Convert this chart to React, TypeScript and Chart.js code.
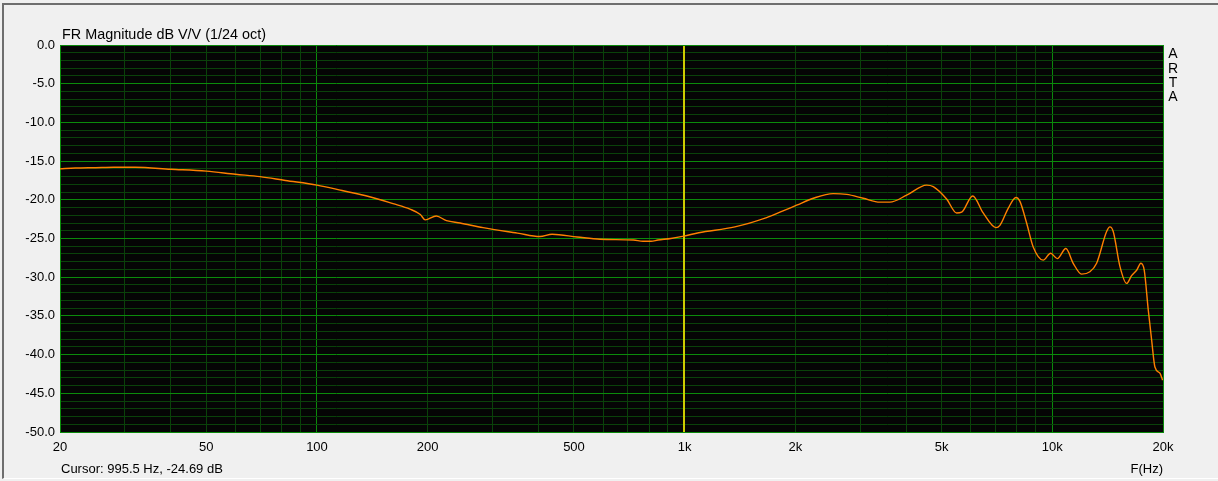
import { useEffect, useRef } from 'react';
import { Chart, registerables } from 'chart.js';

Chart.register(...registerables);

// ---- data ----
const freqHz = [
  20, 22, 25, 28, 32, 40, 50, 60, 70, 82, 100, 117, 139, 161, 179, 191, 197, 211, 225, 245,
  283, 351, 404, 436, 510, 589, 726, 770, 810, 846, 917, 995.5, 1092, 1370, 1671, 1816,
  2016, 2238, 2536, 2758, 3059, 3398, 3617, 4016, 4552, 4744, 5158, 5492, 5667, 6072, 6486,
  7026, 7202, 7586, 7962, 8164, 8513, 8872, 9446, 9894, 10313, 10888, 11398, 12012, 12654,
  13197, 14050, 14343, 14644, 15270, 15924, 16430, 16954, 17417, 17782, 18234, 18624, 19013,
  19618, 19950,
];
const magnitudeDb = [
  -16.0, -15.9, -15.85, -15.8, -15.8, -16.05, -16.3, -16.7, -17.0, -17.5, -18.1, -18.8, -19.6,
  -20.5, -21.2, -21.9, -22.6, -22.1, -22.7, -23.0, -23.6, -24.3, -24.75, -24.45, -24.8, -25.1,
  -25.2, -25.35, -25.35, -25.2, -25.0, -24.69, -24.25, -23.5, -22.3, -21.6, -20.7, -19.8,
  -19.2, -19.3, -19.8, -20.3, -20.3, -19.4, -18.1, -18.3, -19.9, -21.7, -21.6, -19.5, -21.7,
  -23.6, -23.3, -21.1, -19.7, -20.2, -23.0, -26.1, -27.8, -26.9, -27.6, -26.3, -28.2, -29.6,
  -29.3, -28.2, -24.1, -23.5, -24.1, -28.6, -30.8, -29.8, -29.1, -28.2, -29.1, -34.2, -38.1,
  -41.6, -42.4, -43.3,
];

const xGridFreqs = [
  20, 30, 40, 50, 60, 70, 80, 90, 100, 200, 300, 400, 500, 600, 700, 800, 900, 1000, 2000,
  3000, 4000, 5000, 6000, 7000, 8000, 9000, 10000, 20000,
];
const xMajorFreqs = [20, 100, 1000, 10000, 20000];
const xLabelValues = [20, 50, 100, 200, 500, 1000, 2000, 5000, 10000, 20000];
const xLabelTexts = ['20', '50', '100', '200', '500', '1k', '2k', '5k', '10k', '20k'];

const yMin = -50;
const yMax = 0;
const yGridStep = 1;
const yLabelStep = 5;

const cursorFreq = 995.5;
const cursorDb = -24.69;

const titleText = 'FR Magnitude dB V/V (1/24 oct)';
const xAxisTitle = 'F(Hz)';
const sideLetters = ['A', 'R', 'T', 'A'];

// ---- styles ----
const FONT = "'Liberation Sans', Arial, sans-serif";
const MAJOR = '#0b8a0b';
const MINOR = '#0a420a';
const PLOT_BG = '#050505';

export default function App() {
  const canvasRef = useRef<HTMLCanvasElement | null>(null);

  useEffect(() => {
    const canvas = canvasRef.current;
    if (!canvas) return;

    const decor = {
      id: 'artaDecor',
      beforeDraw(chart: any) {
        const { ctx, chartArea } = chart;
        ctx.save();
        ctx.fillStyle = PLOT_BG;
        ctx.fillRect(chartArea.left, chartArea.top, chartArea.right - chartArea.left, chartArea.bottom - chartArea.top);
        ctx.restore();
      },
      beforeDatasetsDraw(chart: any) {
        const { ctx, chartArea } = chart;
        const x = chart.scales.x.getPixelForValue(cursorFreq);
        ctx.save();
        ctx.strokeStyle = '#cccc00';
        ctx.lineWidth = 2;
        ctx.beginPath();
        ctx.moveTo(Math.round(x), chartArea.top + 1);
        ctx.lineTo(Math.round(x), chartArea.bottom);
        ctx.stroke();
        ctx.restore();
      },
      afterDraw(chart: any) {
        const { ctx, chartArea } = chart;
        ctx.save();
        ctx.fillStyle = '#000';
        ctx.textBaseline = 'alphabetic';
        ctx.textAlign = 'left';
        ctx.font = `14.4px ${FONT}`;
        ctx.fillText(titleText, chartArea.left + 2, 39);
        ctx.font = `13px ${FONT}`;
        ctx.fillText(`Cursor: ${cursorFreq} Hz, ${cursorDb} dB`, chartArea.left + 1, 473);
        ctx.textAlign = 'right';
        ctx.fillText(xAxisTitle, chartArea.right, 473);
        ctx.textAlign = 'center';
        ctx.font = `14px ${FONT}`;
        sideLetters.forEach((ch, i) => {
          ctx.fillText(ch, chartArea.right + 10, 58.3 + i * 14.2);
        });
        ctx.restore();
      },
    };

    const chart = new Chart(canvas, {
      type: 'line',
      data: {
        datasets: [
          {
            data: freqHz.map((f, i) => ({ x: f, y: magnitudeDb[i] })),
            borderColor: '#ff8000',
            borderWidth: 1.4,
            pointRadius: 0,
            cubicInterpolationMode: 'monotone',
            fill: false,
          },
        ],
      },
      options: {
        animation: false,
        responsive: false,
        devicePixelRatio: 1,
        events: [],
        layout: { padding: { left: 0, top: 45, right: 55, bottom: 0 } },
        plugins: {
          legend: { display: false },
          tooltip: { enabled: false },
          title: { display: false },
        },
        scales: {
          x: {
            type: 'logarithmic',
            min: 20,
            max: 20000,
            afterBuildTicks: (scale: any) => {
              scale.ticks = xGridFreqs.map((v) => ({ value: v }));
            },
            afterFit: (scale: any) => {
              scale.height = 49;
            },
            ticks: {
              autoSkip: false,
              maxRotation: 0,
              minRotation: 0,
              padding: 8,
              color: '#000',
              font: { family: FONT, size: 13 },
              callback: (value: any) => {
                const idx = xLabelValues.indexOf(Number(value));
                return idx >= 0 ? xLabelTexts[idx] : '';
              },
            },
            grid: {
              drawTicks: false,
              lineWidth: 1,
              color: (ctx: any) =>
                ctx.tick && xMajorFreqs.includes(ctx.tick.value) ? MAJOR : MINOR,
            },
            border: { display: true, color: MAJOR, width: 1 },
          },
          y: {
            type: 'linear',
            min: yMin,
            max: yMax,
            afterFit: (scale: any) => {
              scale.width = 60;
            },
            ticks: {
              stepSize: yGridStep,
              autoSkip: false,
              padding: 5,
              color: '#000',
              font: { family: FONT, size: 13 },
              callback: (value: any) => {
                const v = Number(value);
                return Math.abs(v % yLabelStep) < 1e-6 ? (v === 0 ? 0 : v).toFixed(1) : '';
              },
            },
            grid: {
              drawTicks: false,
              lineWidth: 1,
              color: (ctx: any) =>
                ctx.tick && Math.abs(ctx.tick.value % yLabelStep) < 1e-6 ? MAJOR : MINOR,
            },
            border: { display: true, color: MAJOR, width: 1 },
          },
        },
      },
      plugins: [decor],
    } as any);

    return () => {
      chart.destroy();
    };
  }, []);

  return (
    <div
      style={{
        position: 'absolute',
        left: 0,
        top: 0,
        width: 1218,
        height: 481,
        background: '#f0f0f0',
        overflow: 'hidden',
      }}
    >
      <div
        style={{
          position: 'absolute',
          left: 2,
          top: 3,
          right: 0,
          bottom: 2,
          borderTop: '2px solid #6e6e6e',
          borderLeft: '2px solid #6e6e6e',
          borderBottom: '1px solid #ffffff',
        }}
      />
      <canvas
        ref={canvasRef}
        width={1218}
        height={481}
        style={{ position: 'absolute', left: 0, top: 0, width: 1218, height: 481 }}
      />
    </div>
  );
}
